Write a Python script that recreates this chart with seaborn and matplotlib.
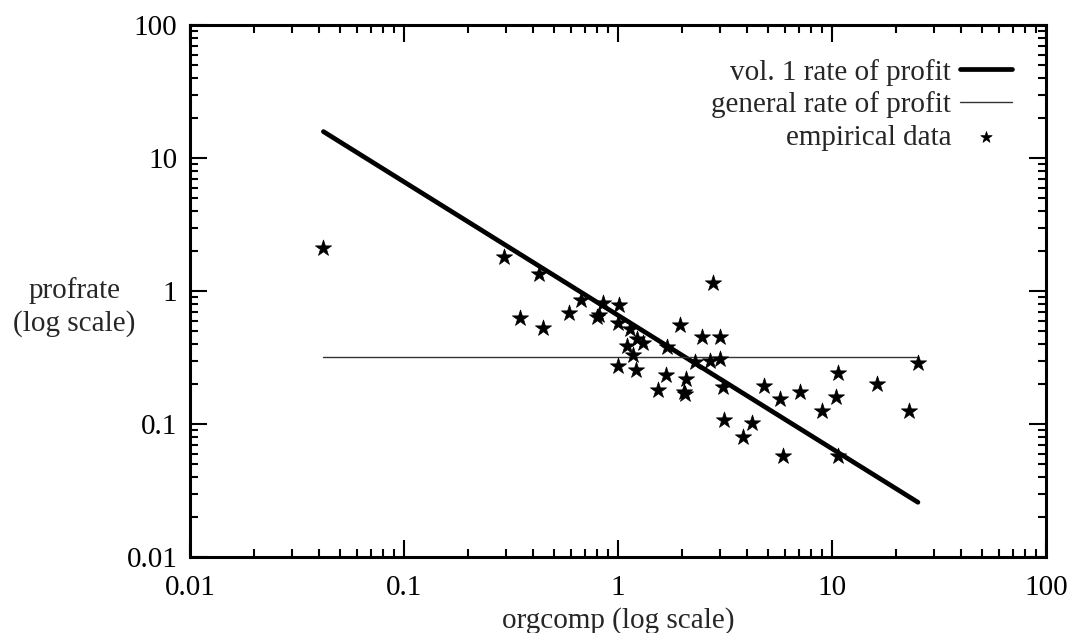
import numpy as np
import pandas as pd
import matplotlib
matplotlib.use("Agg")
import matplotlib.pyplot as plt
import seaborn as sns

# empirical data: organic composition vs profit rate
orgcomp = [0.042, 0.293, 0.428, 0.348, 0.446, 0.590, 0.672, 0.851, 1.01, 0.798,
           0.815, 1.00, 1.14, 1.23, 1.31, 1.10, 1.17, 1.00, 1.21, 1.69,
           1.95, 2.47, 3.00, 2.78, 2.29, 2.69, 3.00, 1.68, 2.08, 1.54,
           2.03, 2.05, 3.09, 4.81, 5.71, 7.08, 10.7, 10.4, 8.98, 16.2,
           25.2, 22.9, 3.13, 4.23, 3.84, 5.90, 10.7]
profrate = [2.11, 1.80, 1.34, 0.627, 0.527, 0.684, 0.856, 0.812, 0.785, 0.638,
            0.660, 0.575, 0.518, 0.436, 0.407, 0.386, 0.330, 0.273, 0.255, 0.379,
            0.555, 0.451, 0.451, 1.15, 0.293, 0.298, 0.308, 0.234, 0.218, 0.180,
            0.174, 0.168, 0.190, 0.193, 0.154, 0.174, 0.242, 0.160, 0.125, 0.200,
            0.288, 0.125, 0.107, 0.102, 0.080, 0.0574, 0.0574]

# vol. 1 rate of profit line (endpoints) and general rate of profit
vol1_x = [0.042, 25.2]
vol1_y = [15.8, 0.0258]
general_x = [0.042, 25.2]
general_y = [0.318, 0.318]

tick_vals = [0.01, 0.1, 1, 10, 100]
tick_labels = ["0.01", "0.1", "1", "10", "100"]

sns.set_style("ticks")
plt.rcParams['font.family'] = ['Liberation Serif', 'DejaVu Serif']

fs = 21

fig = plt.figure(figsize=(10.7, 6.33), dpi=100)
ax = fig.add_axes([0.1776, 0.120, 0.80, 0.8405])

sns.lineplot(x=vol1_x, y=vol1_y, ax=ax, color="black", linewidth=3.4,
             label="vol. 1 rate of profit")
sns.lineplot(x=general_x, y=general_y, ax=ax, color="#333333", linewidth=1.0,
             label="general rate of profit")
sns.scatterplot(x=orgcomp, y=profrate, ax=ax, marker="*", s=150, color="black",
                edgecolor="black", linewidth=0.5, label="empirical data", zorder=3)

ax.set_xscale("log")
ax.set_yscale("log")
ax.set_xlim(0.01, 100)
ax.set_ylim(0.01, 100)
ax.set_xticks(tick_vals)
ax.set_xticklabels(tick_labels)
ax.set_yticks(tick_vals)
ax.set_yticklabels(tick_labels)

ax.tick_params(which="both", direction="in", top=True, right=True, width=1.5,
               labelsize=fs, colors="black")
ax.tick_params(which="major", length=12, pad=9)
ax.tick_params(axis="x", which="major", pad=13)
ax.tick_params(which="minor", length=6)
for sp in ax.spines.values():
    sp.set_linewidth(2.2)
    sp.set_color("black")

ax.set_xlabel("orgcomp (log scale)", fontsize=fs, labelpad=4)
ax.set_ylabel("profrate\n(log scale)", fontsize=fs, rotation=0,
              ha="center", va="center", labelpad=0, linespacing=1.3)
ax.yaxis.set_label_coords(-0.135, 0.47)

leg = ax.legend(loc="upper right", frameon=False, markerfirst=False,
                fontsize=fs, handlelength=1.8, labelspacing=0.2,
                borderaxespad=0.75, handletextpad=0.3, markerscale=0.7)
for t in leg.get_texts():
    t.set_ha("right")
leg._legend_box.align = "right"

fig.savefig("out.png", dpi=100)
